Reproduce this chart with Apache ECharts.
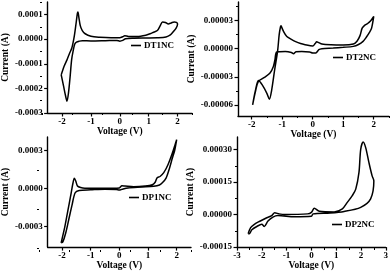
<!DOCTYPE html>
<html>
<head>
<meta charset="utf-8">
<script src="https://cdn.jsdelivr.net/npm/echarts@6/dist/echarts.min.js"></script>
<style>
html,body{margin:0;padding:0;background:#fff;}
#c{width:391px;height:272px;}
</style>
</head>
<body>
<div id="c"></div>
<script>
// ---- data (Voltage in V, Current in A) ----
const dt1ncV = [-2.03,-1.93,-1.83,-1.75,-1.66,-1.58,-1.52,-1.47,-1.45,-1.42,-1.37,-1.30,-1.20,-1.00,-0.70,-0.30,0.00,0.10,0.17,0.30,0.60,0.90,1.05,1.15,1.30,1.40,1.48,1.58,1.68,1.78,1.88,1.96,2.00,1.95,1.85,1.75,1.60,1.30,0.90,0.50,0.20,0.10,0.00,-0.10,-0.50,-1.00,-1.30,-1.40,-1.50,-1.56,-1.62,-1.67,-1.72,-1.78,-1.83,-1.88,-1.95,-2.03];
const dt1ncI = [-1.45e-4,-1.10e-4,-0.84e-4,-0.60e-4,-0.35e-4,0.10e-4,0.60e-4,1.05e-4,1.10e-4,0.90e-4,0.55e-4,0.35e-4,0.22e-4,0.12e-4,0.08e-4,0.06e-4,0.06e-4,0.10e-4,0.14e-4,0.11e-4,0.11e-4,0.16e-4,0.22e-4,0.27e-4,0.35e-4,0.55e-4,0.70e-4,0.68e-4,0.62e-4,0.66e-4,0.70e-4,0.68e-4,0.62e-4,0.45e-4,0.30e-4,0.17e-4,0.09e-4,0.06e-4,0.05e-4,0.04e-4,0.02e-4,-0.05e-4,-0.08e-4,-0.05e-4,-0.06e-4,-0.07e-4,-0.06e-4,-0.08e-4,-0.12e-4,-0.20e-4,-0.50e-4,-0.84e-4,-1.50e-4,-2.20e-4,-2.52e-4,-2.30e-4,-1.90e-4,-1.45e-4];

const dt2ncV = [-1.04,-0.95,-0.85,-0.70,-0.58,-0.40,-0.25,0.00,0.08,0.13,0.20,0.30,0.60,1.00,1.33,1.45,1.55,1.62,1.70,1.80,1.90,2.00,1.93,1.87,1.75,1.65,1.50,1.33,1.00,0.67,0.30,0.20,0.10,0.00,-0.10,-0.36,-0.55,-0.63,-0.70,-0.90,-1.18,-1.24,-1.29,-1.40,-1.60,-1.78,-1.88,-1.97,-1.88,-1.78,-1.65,-1.50,-1.42,-1.35,-1.25,-1.15,-1.10,-1.06,-1.04];
const dt2ncI = [2.47e-5,1.80e-5,1.30e-5,1.00e-5,0.79e-5,0.55e-5,0.43e-5,0.30e-5,0.55e-5,0.75e-5,0.65e-5,0.50e-5,0.42e-5,0.40e-5,0.50e-5,0.80e-5,1.40e-5,2.20e-5,2.50e-5,2.70e-5,3.00e-5,3.45e-5,2.20e-5,1.80e-5,1.20e-5,0.79e-5,0.45e-5,0.25e-5,0.15e-5,0.07e-5,0.00e-5,-0.10e-5,-0.45e-5,-0.45e-5,-0.35e-5,-0.29e-5,-0.33e-5,-0.54e-5,-0.40e-5,-0.29e-5,-0.35e-5,-1.20e-5,-1.90e-5,-2.60e-5,-3.10e-5,-3.50e-5,-4.60e-5,-6.00e-5,-4.50e-5,-3.40e-5,-3.90e-5,-4.80e-5,-5.40e-5,-4.50e-5,-2.30e-5,-0.20e-5,1.50e-5,2.30e-5,2.47e-5];

const dp1ncV = [-2.03,-1.90,-1.80,-1.70,-1.62,-1.57,-1.52,-1.46,-1.35,-1.20,-0.50,0.00,0.09,0.20,0.50,0.90,1.15,1.25,1.32,1.42,1.55,1.70,1.85,1.95,2.00,1.93,1.85,1.75,1.63,1.50,1.40,1.20,0.80,0.30,0.10,0.00,-0.10,-0.50,-1.00,-1.40,-1.54,-1.65,-1.75,-1.87,-1.97,-2.03];
const dp1ncI = [-4.28e-4,-3.00e-4,-1.80e-4,-0.60e-4,0.40e-4,0.82e-4,0.60e-4,0.20e-4,0.08e-4,0.03e-4,0.02e-4,0.05e-4,0.22e-4,0.20e-4,0.15e-4,0.20e-4,0.30e-4,0.50e-4,0.85e-4,0.95e-4,1.25e-4,1.90e-4,2.80e-4,3.50e-4,3.85e-4,3.00e-4,2.40e-4,1.60e-4,0.82e-4,0.45e-4,0.28e-4,0.18e-4,0.12e-4,0.05e-4,-0.05e-4,-0.12e-4,-0.08e-4,-0.05e-4,-0.10e-4,-0.15e-4,-0.33e-4,-1.30e-4,-2.30e-4,-3.50e-4,-4.20e-4,-4.28e-4];

const dp2ncV = [-2.55,-2.45,-2.30,-2.10,-1.80,-1.60,-1.48,-1.30,-1.08,-0.15,0.00,0.12,0.32,0.92,1.25,1.45,1.65,1.79,1.92,1.99,2.09,2.19,2.32,2.45,2.52,2.39,1.99,1.32,0.76,0.07,0.00,-0.68,-1.35,-1.55,-1.75,-1.90,-2.00,-2.20,-2.40,-2.50,-2.55];
const dp2ncI = [-0.88e-4,-0.60e-4,-0.45e-4,-0.32e-4,-0.15e-4,-0.05e-4,0.08e-4,0.03e-4,0.00e-4,0.03e-4,0.10e-4,0.29e-4,0.15e-4,0.12e-4,0.26e-4,0.56e-4,0.87e-4,1.17e-4,1.94e-4,3.00e-4,3.34e-4,3.08e-4,2.40e-4,1.78e-4,1.55e-4,0.72e-4,0.33e-4,0.14e-4,0.07e-4,0.03e-4,-0.08e-4,-0.10e-4,-0.05e-4,-0.12e-4,-0.30e-4,-0.55e-4,-0.45e-4,-0.55e-4,-0.70e-4,-0.88e-4,-0.88e-4];

// tick values
const xTicks2 = [-2,-1,0,1,2];
const xMinor2 = [-2.5,-1.5,-0.5,0.5,1.5,2.5];
const xTicks3 = [-3,-2,-1,0,1,2,3];
const xMinor3 = [-2.5,-1.5,-0.5,0.5,1.5,2.5];
const yTicksA = [-0.0003,-0.0002,-0.0001,0,0.0001];
const yMinorA = [-0.00025,-0.00015,-0.00005,0.00005,0.00015];
const yTicksB = [-0.00006,-0.00003,0,0.00003];
const yMinorB = [-0.000045,-0.000015,0.000015,0.000045];
const yTicksC = [-0.0003,0,0.0003];
const yMinorC = [-0.00045,-0.00015,0.00015];
const yTicksD = [-0.00015,0,0.00015,0.0003];
const yMinorD = [-0.000075,0.000075,0.000225];

const names = ['DT1NC','DT2NC','DP1NC','DP2NC'];
const xName = 'Voltage (V)';
const yName = 'Current (A)';

const FONT = 'Liberation Serif';
const panels = [
  {name:names[0], V:dt1ncV, I:dt1ncI, grid:{left:42,top:2,width:150,height:111}, x:[-2.5,2.5], xt:xTicks2, xm:xMinor2, y:[-0.0003,0.000151], yt:yTicksA, ym:yMinorA, dec:4, leg:{left:131,top:41}},
  {name:names[1], V:dt2ncV, I:dt2ncI, grid:{left:238,top:2,width:151,height:114}, x:[-2.45,2.5], xt:xTicks2, xm:xMinor2.filter(v=>v>-2.45), y:[-0.000072,0.00005], yt:yTicksB, ym:yMinorB, dec:5, leg:{left:333,top:53}},
  {name:names[2], V:dp1ncV, I:dp1ncI, grid:{left:39,top:137,width:152,height:113}, x:[-2.5,2.5], xt:xTicks2, xm:xMinor2, y:[-0.000461,0.000406], yt:yTicksC, ym:yMinorC, dec:4, leg:{left:129,top:193}},
  {name:names[3], V:dp2ncV, I:dp2ncI, grid:{left:237,top:137,width:150,height:111}, x:[-3,3], xt:xTicks3, xm:xMinor3, y:[-0.00015,0.000357], yt:yTicksD, ym:yMinorD, dec:5, leg:{left:332,top:220}}
];

const grid=[], xAxis=[], yAxis=[], series=[], legend=[];
const lab = {fontFamily:FONT, fontWeight:'bold', fontSize:9, color:'#000'};
panels.forEach((p,k)=>{
  grid.push(Object.assign({containLabel:false}, p.grid));
  grid.push(Object.assign({containLabel:false}, p.grid));
  const gi = 2*k;
  xAxis.push({type:'value', gridIndex:gi, min:p.x[0], max:p.x[1],
    axisLine:{show:true, onZero:false, lineStyle:{color:'#000', width:1.4}},
    axisTick:{show:true, inside:false, length:3.5, customValues:p.xt, lineStyle:{color:'#000', width:1.2}},
    axisLabel:Object.assign({customValues:p.xt, margin:4, formatter:v=>String(v)}, lab),
    splitLine:{show:false},
    name:xName, nameLocation:'middle', nameGap:12, nameTextStyle:Object.assign({}, lab, {fontSize:9.5})
  });
  xAxis.push({type:'value', gridIndex:gi+1, min:p.x[0], max:p.x[1],
    axisLine:{show:false, onZero:false},
    axisTick:{show:true, inside:false, length:2, customValues:p.xm, lineStyle:{color:'#000', width:1}},
    axisLabel:{show:false}, splitLine:{show:false}
  });
  yAxis.push({type:'value', gridIndex:gi, min:p.y[0], max:p.y[1],
    axisLine:{show:true, onZero:false, lineStyle:{color:'#000', width:1.4}},
    axisTick:{show:true, inside:false, length:3.5, customValues:p.yt, lineStyle:{color:'#000', width:1.2}},
    axisLabel:Object.assign({customValues:p.yt, margin:5, formatter:v=>v.toFixed(p.dec)}, lab),
    splitLine:{show:false},
    name:yName, nameLocation:'middle', nameGap: (k%2===0? 33:38), nameTextStyle:Object.assign({}, lab, {fontSize:9.5})
  });
  yAxis.push({type:'value', gridIndex:gi+1, min:p.y[0], max:p.y[1],
    axisLine:{show:false, onZero:false},
    axisTick:{show:true, inside:false, length:2, customValues:p.ym, lineStyle:{color:'#000', width:1}},
    axisLabel:{show:false}, splitLine:{show:false}
  });
  series.push({type:'line', name:p.name, xAxisIndex:gi, yAxisIndex:gi,
    data:p.V.map((v,i)=>[v,p.I[i]]), showSymbol:false, symbol:'none', smooth:0.3,
    lineStyle:{color:'#000', width:1.5}, itemStyle:{color:'#000'}, animation:false, clip:false});
  legend.push({data:[{name:p.name, icon:'rect'}], left:p.leg.left, top:p.leg.top, itemWidth:10, itemHeight:1.6, itemGap:3,
    padding:0, textStyle:Object.assign({}, lab, {padding:[0,0,0,-2]}), selectedMode:false});
});

const chart = echarts.init(document.getElementById('c'), null, {renderer:'canvas'});
chart.setOption({animation:false, backgroundColor:'#fff', grid, xAxis, yAxis, series, legend});
</script>
</body>
</html>
